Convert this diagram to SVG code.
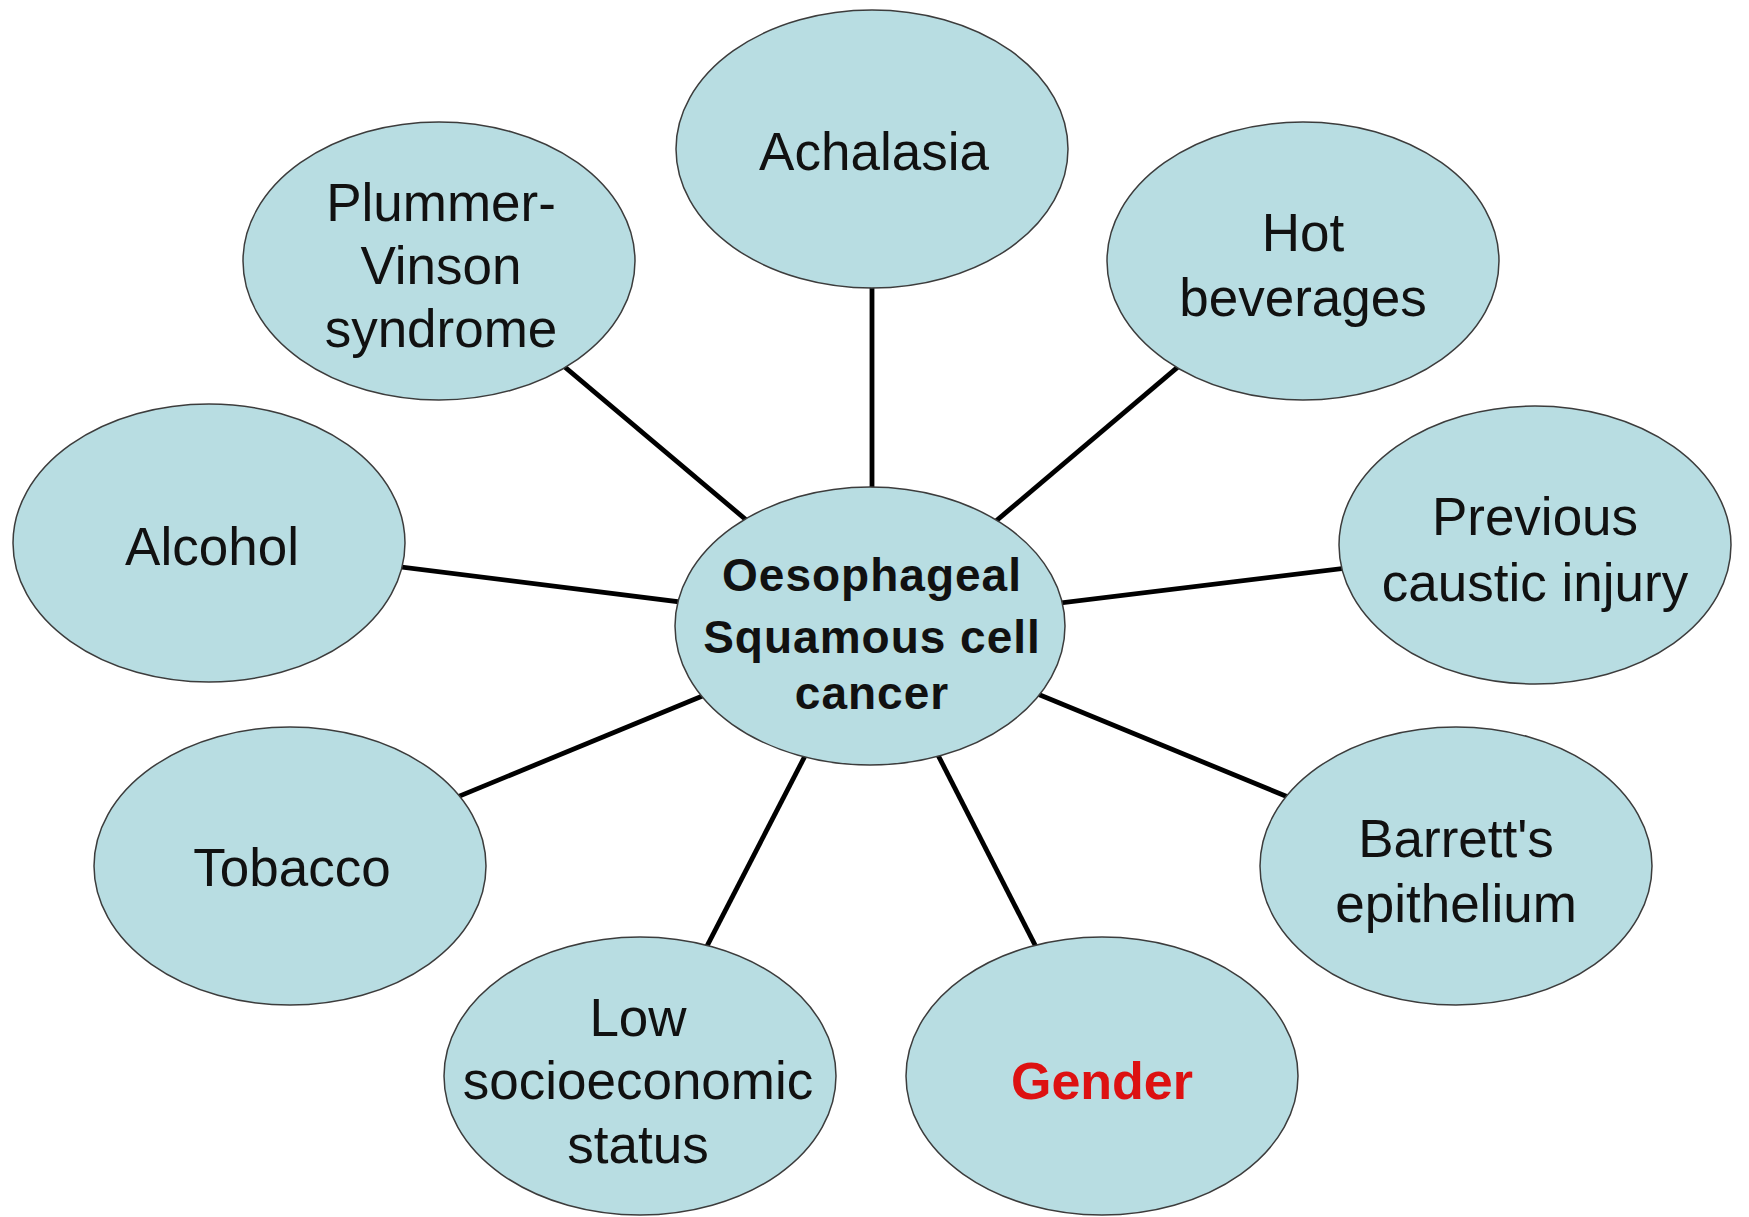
<svg xmlns="http://www.w3.org/2000/svg" width="1749" height="1217" viewBox="0 0 1749 1217">
<style>
.bg{fill:#ffffff}
.node ellipse{fill:#b8dde2;stroke:#3c3c3c;stroke-width:1.5}
.lbl{font-family:"Liberation Sans",Arial,sans-serif;font-size:53px;fill:#111;text-anchor:middle}
.hub{font-family:"Liberation Sans",Arial,sans-serif;font-size:46px;font-weight:bold;fill:#111;text-anchor:middle;letter-spacing:1px}
.red{font-family:"Liberation Sans",Arial,sans-serif;font-size:52px;font-weight:bold;fill:#dd1111;text-anchor:middle}
.edges line{stroke:#000;stroke-width:4.8}
</style>
<rect class="bg" x="0" y="0" width="1749" height="1217"/>
<g class="edges" id="connectors">
<line x1="872" y1="149" x2="872" y2="626"/>
<line x1="439" y1="261" x2="872" y2="626"/>
<line x1="1303" y1="261" x2="872" y2="626"/>
<line x1="209" y1="543" x2="872" y2="626"/>
<line x1="1535" y1="545" x2="872" y2="626"/>
<line x1="290" y1="866" x2="872" y2="626"/>
<line x1="1456" y1="866" x2="872" y2="626"/>
<line x1="640" y1="1076" x2="872" y2="626"/>
<line x1="1102" y1="1076" x2="872" y2="626"/>
</g>
<g class="node" id="achalasia"><ellipse cx="872" cy="149" rx="196" ry="139"/><text class="lbl" x="874" y="170">Achalasia</text></g>
<g class="node" id="plummer"><ellipse cx="439" cy="261" rx="196" ry="139"/><text class="lbl" x="441" y="221">Plummer-</text><text class="lbl" x="441" y="284">Vinson</text><text class="lbl" x="441" y="347">syndrome</text></g>
<g class="node" id="hot"><ellipse cx="1303" cy="261" rx="196" ry="139"/><text class="lbl" x="1303" y="251">Hot</text><text class="lbl" x="1303" y="316">beverages</text></g>
<g class="node" id="alcohol"><ellipse cx="209" cy="543" rx="196" ry="139"/><text class="lbl" x="212" y="565">Alcohol</text></g>
<g class="node" id="caustic"><ellipse cx="1535" cy="545" rx="196" ry="139"/><text class="lbl" x="1535" y="535">Previous</text><text class="lbl" x="1535" y="601">caustic injury</text></g>
<g class="node" id="tobacco"><ellipse cx="290" cy="866" rx="196" ry="139"/><text class="lbl" x="292" y="886">Tobacco</text></g>
<g class="node" id="barrett"><ellipse cx="1456" cy="866" rx="196" ry="139"/><text class="lbl" x="1456" y="857">Barrett's</text><text class="lbl" x="1456" y="922">epithelium</text></g>
<g class="node" id="lowses"><ellipse cx="640" cy="1076" rx="196" ry="139"/><text class="lbl" x="638" y="1036">Low</text><text class="lbl" x="638" y="1099">socioeconomic</text><text class="lbl" x="638" y="1163">status</text></g>
<g class="node" id="gender"><ellipse cx="1102" cy="1076" rx="196" ry="139"/><text class="red" x="1102" y="1099">Gender</text></g>
<g class="node" id="center"><ellipse cx="870" cy="626" rx="195" ry="139"/><text class="hub" x="872" y="591">Oesophageal</text><text class="hub" x="872" y="653">Squamous cell</text><text class="hub" x="872" y="709">cancer</text></g>
</svg>
